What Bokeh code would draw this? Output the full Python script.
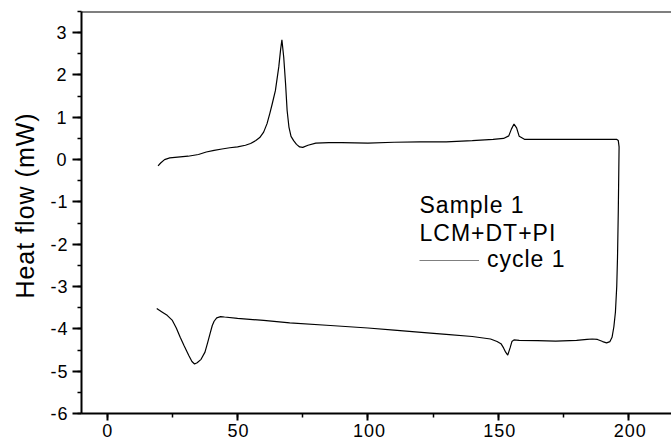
import numpy as np
from bokeh.plotting import figure
from bokeh.models import (Range1d, Label, Legend, LegendItem, Span,
                          SingleIntervalTicker, CustomJSTickFormatter)
from bokeh.embed import file_html
from bokeh.resources import INLINE

# heating run (temperature in deg C, heat flow in mW)
heat_T = [19.5, 20.5, 22, 24, 27, 31, 35, 38, 41, 44, 47, 50, 53, 55, 57, 58.5, 60, 61.3,
          62.4, 63.3, 64.5, 65.8, 66.5, 67.0, 67.7, 68.4, 69.0, 69.7, 70.5, 71.5, 72.6, 73.8,
          75, 77, 80, 85, 90, 100, 110, 120, 130, 140, 148, 152, 154, 155, 156, 157, 158,
          160, 165, 170, 180, 190, 194, 195.3, 196.0]
heat_Q = [-0.15, -0.08, 0.0, 0.04, 0.06, 0.08, 0.12, 0.18, 0.22, 0.25, 0.28, 0.3, 0.34, 0.38,
          0.45, 0.52, 0.65, 0.85, 1.1, 1.32, 1.63, 2.19, 2.6, 2.83, 2.42, 1.8, 1.16, 0.77, 0.55,
          0.45, 0.36, 0.3, 0.29, 0.34, 0.39, 0.4, 0.4, 0.39, 0.41, 0.42, 0.42, 0.45, 0.48, 0.5,
          0.56, 0.72, 0.84, 0.75, 0.55, 0.48, 0.48, 0.48, 0.48, 0.48, 0.48, 0.48, 0.45]

# cooling run
cool_T = [196.3, 196.2, 196.0, 195.7, 195.4, 194.9, 194.3, 193.6, 192.8, 191.5, 190, 188, 186,
          184, 180, 172, 165, 158, 156, 155.2, 154.5, 153.6, 152.8, 152, 151, 149.5, 147, 140,
          130, 124, 110, 100, 85.6, 70, 60, 50, 45, 43.5, 42, 41, 40.3, 39.5, 38.5, 37.5, 36,
          34.5, 33.5, 32.5, 31.3, 29.5, 28, 26.5, 25, 23, 21, 19]
cool_Q = [0.3, -0.2, -1.2, -2.3, -3.0, -3.6, -3.95, -4.2, -4.3, -4.33, -4.3, -4.25, -4.24,
          -4.25, -4.27, -4.29, -4.28, -4.27, -4.26, -4.3, -4.45, -4.62, -4.55, -4.45, -4.35,
          -4.3, -4.24, -4.18, -4.13, -4.1, -4.03, -3.98, -3.92, -3.86, -3.8, -3.75, -3.72,
          -3.71, -3.74, -3.82, -3.92, -4.1, -4.33, -4.55, -4.72, -4.8, -4.83, -4.77, -4.63,
          -4.4, -4.2, -3.98, -3.8, -3.68, -3.6, -3.52]

x_tick_step = 50
y_tick_step = 1
x_lim = (-9.85, 216.4)
y_lim = (-6, 3.5)

legend_header = ["Sample 1", "LCM+DT+PI"]
series_label = "cycle 1"
y_title = "Heat flow (mW)"

FONT = "Liberation Sans"

p = figure(width=671, height=442, output_backend="svg", toolbar_location=None,
           x_range=Range1d(*x_lim), y_range=Range1d(*y_lim),
           min_border_left=81, min_border_right=0, min_border_top=11, min_border_bottom=29,
           background_fill_color="white", border_fill_color="white")
p.stylesheets = [":host { letter-spacing: 1px; }"]
p.outline_line_color = None
p.xgrid.visible = False
p.ygrid.visible = False

T = list(heat_T) + list(cool_T)
Q = list(heat_Q) + list(cool_Q)
p.line(T, Q, line_color="black", line_width=1.2)

fmt = CustomJSTickFormatter(code="return tick.toString();")
for ax in (p.xaxis[0], p.yaxis[0]):
    ax.axis_line_width = 2
    ax.axis_line_color = "black"
    ax.major_tick_line_width = 2
    ax.major_tick_line_color = "black"
    ax.minor_tick_line_width = 1.5
    ax.minor_tick_line_color = "black"
    ax.major_tick_in = 0
    ax.minor_tick_in = 0
    ax.minor_tick_out = 4
    ax.major_label_text_font = FONT
    ax.major_label_text_font_size = "18px"
    ax.major_label_text_color = "black"
    ax.major_label_text_line_height = 1.0
    ax.formatter = fmt

p.xaxis[0].ticker = SingleIntervalTicker(interval=x_tick_step, num_minor_ticks=2)
p.xaxis[0].major_tick_out = 7
p.xaxis[0].major_label_standoff = 3

p.yaxis[0].ticker = SingleIntervalTicker(interval=y_tick_step, num_minor_ticks=2)
p.yaxis[0].major_tick_out = 9
p.yaxis[0].major_label_standoff = 6
p.yaxis[0].axis_label = y_title
p.yaxis[0].axis_label_text_font = FONT
p.yaxis[0].axis_label_text_font_size = "25px"
p.yaxis[0].axis_label_text_font_style = "normal"
p.yaxis[0].axis_label_text_color = "black"
p.yaxis[0].axis_label_text_line_height = 1.0
p.yaxis[0].axis_label_standoff = 8

# top frame line
p.add_layout(Span(location=y_lim[1], dimension="width", line_color="black", line_width=2))

for i, txt in enumerate(legend_header):
    p.add_layout(Label(x=338, y=209 - 28 * i, x_units="screen", y_units="screen", text=txt,
                       text_font=FONT, text_font_size="23px", text_color="black",
                       text_baseline="alphabetic"))

dummy = p.line([T[0]], [Q[0]], line_color="#7f7f7f", line_width=1.2)
leg = Legend(items=[LegendItem(label=series_label, renderers=[dummy])], location=(338, 140),
             glyph_width=60, glyph_height=20, label_standoff=8, padding=0, margin=0,
             border_line_color=None, background_fill_alpha=0,
             label_text_font=FONT, label_text_font_size="23px", label_text_color="black")
p.add_layout(leg)

open("out.html", "w").write(file_html(p, INLINE))
